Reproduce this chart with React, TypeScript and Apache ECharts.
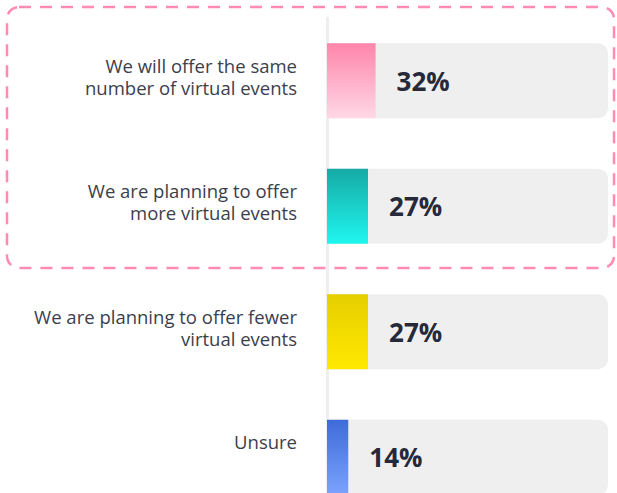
import React, { useEffect, useRef } from "react";
import * as echarts from "echarts";

const categories = [
  "We will offer the same\nnumber of virtual events",
  "We are planning to offer\nmore virtual events",
  "We are planning to offer fewer\nvirtual events",
  "Unsure",
];
const values = [32, 27, 27, 14];
const gradientTops = ["#ff85ab", "#16aaa5", "#e6cf00", "#3d6bd8"];
const gradientBottoms = ["#ffd8e6", "#1ff6ef", "#ffe800", "#7ba3fd"];

export default function App() {
  const ref = useRef<HTMLDivElement>(null);
  useEffect(() => {
    if (!ref.current) return;
    const chart = echarts.init(ref.current, undefined, { renderer: "svg" });
    chart.setOption({
      animation: false,
      grid: { left: 327, right: 9, top: 18, bottom: 0 },
      xAxis: { type: "value", min: 0, max: 185, show: false },
      yAxis: {
        type: "category",
        inverse: true,
        data: categories,
        axisTick: { show: false },
        axisLine: { show: true, lineStyle: { color: "#eeeeee", width: 3 } },
        axisLabel: {
          margin: 30,
          fontSize: 18.5,
          lineHeight: 22,
          color: "#3b3e4d",
          fontFamily: "Open Sans",
          formatter: (v: string) => {
            const lines = v.split("\n");
            const body = lines.map((l) => "{t|" + l + "}").join("\n");
            return lines.length > 1 ? body + "\n{g|}" : body + "\n{u|}";
          },
          rich: {
            t: {
              fontSize: 18.5,
              lineHeight: 22,
              color: "#3b3e4d",
              fontFamily: "Open Sans",
            },
            g: { fontSize: 1, lineHeight: 9 },
            u: { fontSize: 1, lineHeight: 31 },
          },
        },
      },
      series: [
        {
          type: "bar",
          barWidth: 75,
          showBackground: true,
          backgroundStyle: { color: "#efefef", borderRadius: [0, 10, 10, 0] },
          data: values.map((v, i) => ({
            value: v,
            itemStyle: {
              color: new echarts.graphic.LinearGradient(0, 0, 0, 1, [
                { offset: 0, color: gradientTops[i] },
                { offset: 1, color: gradientBottoms[i] },
              ]),
            },
          })),
          label: {
            show: true,
            position: "right",
            distance: 21,
            formatter: "{c}%",
            fontSize: 26,
            fontWeight: "bold",
            color: "#262939",
            fontFamily: "Open Sans",
          },
        },
      ],
      graphic: [
        {
          type: "rect",
          shape: { x: 7, y: 7, width: 607, height: 261, r: 12 },
          style: {
            fill: "transparent",
            stroke: "#ff8ab2",
            lineWidth: 2.5,
            lineDash: [12, 9],
          },
          silent: true,
        },
      ],
    });
    return () => chart.dispose();
  }, []);
  return (
    <div
      style={{
        position: "absolute",
        left: 0,
        top: 0,
        width: 617,
        height: 493,
        overflow: "hidden",
        background: "#fff",
      }}
    >
      <div ref={ref} style={{ width: 617, height: 520 }} />
    </div>
  );
}
